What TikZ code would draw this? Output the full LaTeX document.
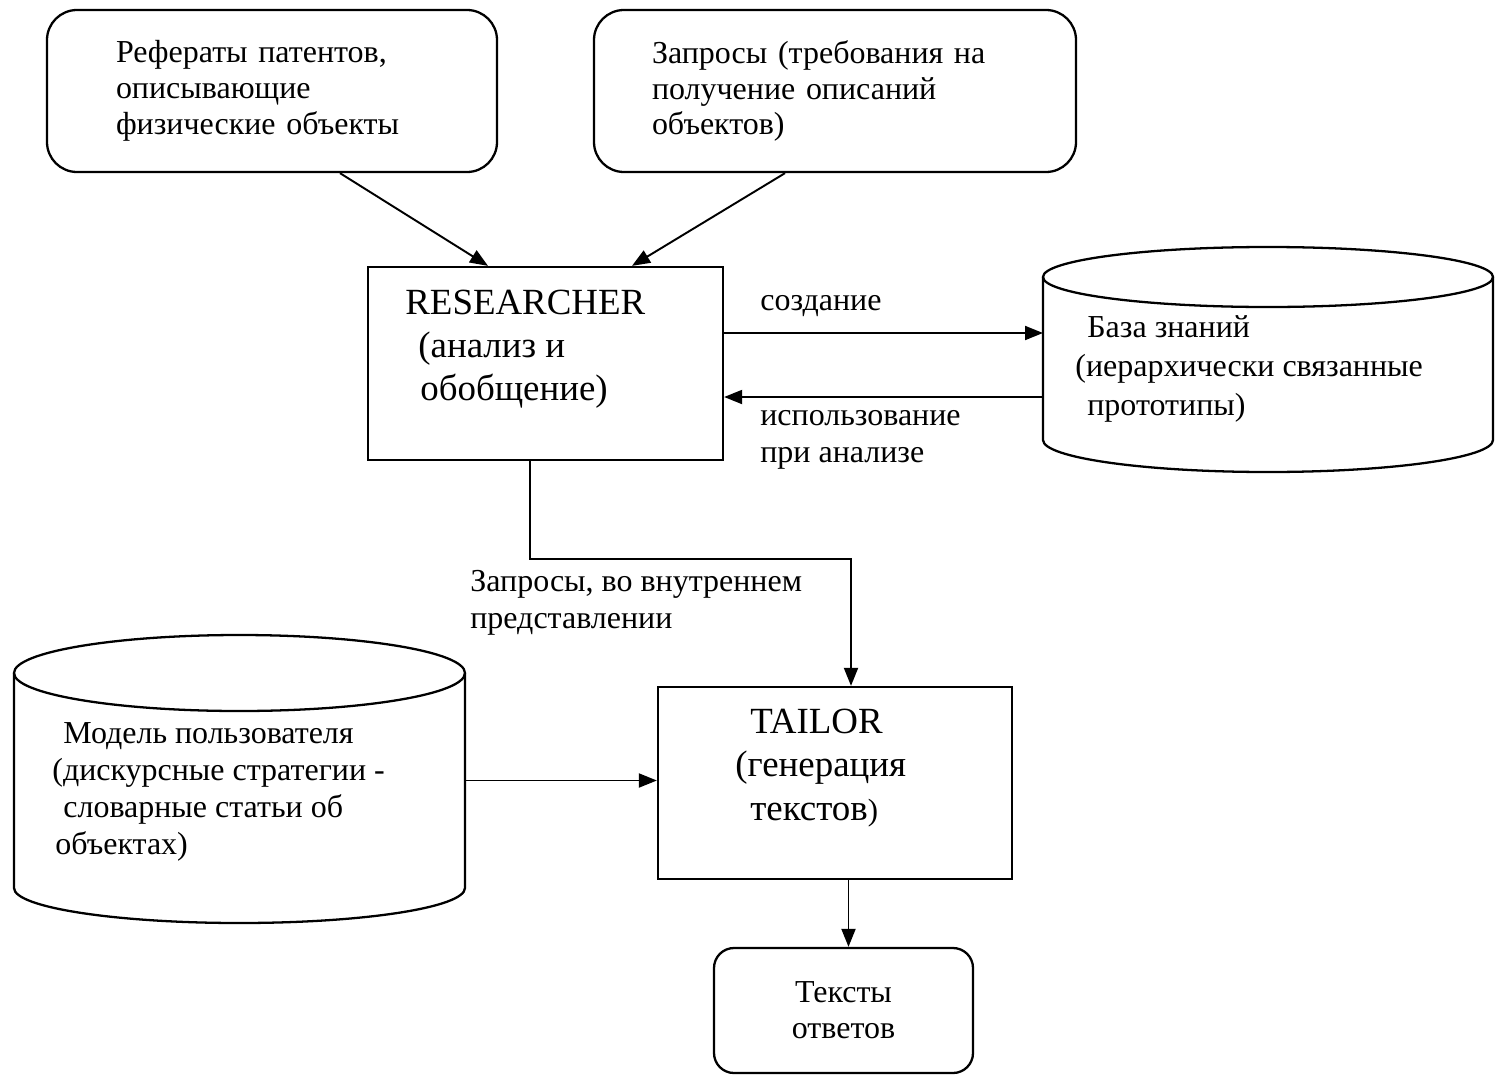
\documentclass[tikz,border=0pt]{standalone}
\usepackage{fontspec}
\setmainfont{Liberation Serif}
\usetikzlibrary{arrows.meta}

\begin{document}
\begin{tikzpicture}[
  box/.style={draw,line width=1.3pt,rounded corners=0.6cm,minimum width=9cm,minimum height=3.24cm,align=left,font=\fontsize{18.2}{20.4}\selectfont},
  block/.style={draw,line width=1.3pt,minimum width=7.1cm,minimum height=3.86cm},
  db/.style={minimum width=9cm,outer sep=0pt},
  dbline/.style={line width=1.3pt},
  lbl/.style={inner sep=0pt,align=left,font=\fontsize{18.2}{20.9}\selectfont},
  big/.style={inner sep=0pt,align=left,font=\fontsize{21}{24.5}\selectfont},
  edge/.style={-{Triangle[length=0.36cm,width=0.28cm]},line width=1.1pt}]
  \useasboundingbox (0,0) rectangle (29.9,-21.5);

  \node[box,text width=6.24cm] (ref) at (5.44,-1.82) {Рефераты патентов,\\описывающие\\физические объекты};
  \node[box,minimum width=9.64cm,text width=7.32cm] (req) at (16.7,-1.82) {Запросы (требования на\\получение описаний\\объектов)};
  \node[block] (res) at (10.91,-7.27) {};
  \node[big,anchor=west] (restext) at (8.1,-6.99) {RESEARCHER\\\hspace*{0.26cm}(анализ и\\\hspace*{0.3cm}обобщение)};
  \node[db,minimum height=3.26cm] (kb) at (25.36,-7.17) {};
  \node[lbl,anchor=west,font=\fontsize{18.2}{22}\selectfont] (kbtext) at (21.5,-7.38) {\hspace*{0.24cm}База знаний\\(иерархически связанные\\\hspace*{0.24cm}прототипы)};
  \node[db,minimum width=9.02cm,minimum height=4.3cm] (um) at (4.79,-15.61) {};
  \node[lbl,anchor=west] (umtext) at (1.04,-15.84) {\hspace*{0.22cm}Модель пользователя\\(дискурсные стратегии -\\\hspace*{0.22cm}словарные статьи об\\\hspace*{0.06cm}объектах)};
  \node[block,minimum width=7.08cm,minimum height=3.84cm] (tailor) at (16.7,-15.66) {};
  \node[big,anchor=west] (tailortext) at (14.7,-15.36) {\hspace*{0.3cm}TAILOR\\(генерация\\\hspace*{0.3cm}текстов{\fontsize{17.5}{20}\selectfont)}};
  \node[box,rounded corners=0.4cm,minimum width=5.18cm,minimum height=2.5cm,align=center] (ans) at (16.87,-20.21) {Тексты\\ответов};

  \draw[dbline] (kb.north west) -- (kb.south west) arc[start angle=180,end angle=360,x radius=4.5cm,y radius=0.64cm] -- (kb.north east);
  \draw[dbline] (kb.north) ellipse[x radius=4.5cm,y radius=0.6cm];
  \draw[dbline] (um.north west) -- (um.south west) arc[start angle=180,end angle=360,x radius=4.51cm,y radius=0.7cm] -- (um.north east);
  \draw[dbline] (um.north) ellipse[x radius=4.51cm,y radius=0.76cm];

  \node[lbl,anchor=west] (make) at (15.2,-6.12) {создание};
  \node[lbl,anchor=west] (use) at (15.2,-8.8) {использование\\при анализе};
  \node[lbl,anchor=west] (query) at (9.4,-12.05) {Запросы, во внутреннем\\представлении};

  \draw[edge] ([xshift=1.36cm]ref.south) -- ([xshift=-1.15cm]res.north);
  \draw[edge] ([xshift=-1.0cm]req.south) -- ([xshift=1.73cm]res.north);
  \draw[edge] ([yshift=0.61cm]res.east) -- ([yshift=0.61cm]res.east -| kb.west);
  \draw[edge] ([yshift=-0.67cm]res.east -| kb.west) -- ([yshift=-0.67cm]res.east);
  \draw[edge] ([xshift=-0.31cm]res.south) -- ++(0,-1.96) -| ([xshift=0.32cm]tailor.north);
  \draw[edge] (um.east) -- (um.east -| tailor.west);
  \draw[edge] ([xshift=0.1cm]ans.north |- tailor.south) -- ([xshift=0.1cm]ans.north);
\end{tikzpicture}
\end{document}
